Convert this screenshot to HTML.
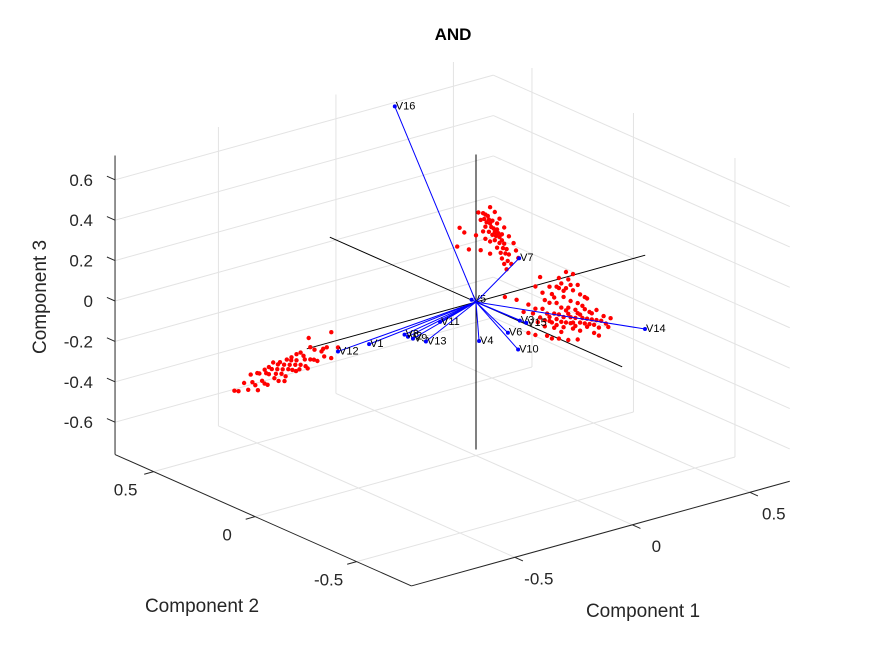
<!DOCTYPE html>
<html><head><meta charset="utf-8"><style>
body{margin:0;background:#fff;}
svg{display:block;font-family:"Liberation Sans",sans-serif;}
</style></head><body>
<svg id="chart" width="875" height="656" viewBox="0 0 875 656" xmlns="http://www.w3.org/2000/svg">
<rect width="875" height="656" fill="#fff"/>
<text x="453" y="40" text-anchor="middle" font-size="17" font-weight="bold">AND</text>
<g id="grid"></g><g id="axes"></g><g id="points"></g><g id="vectors"></g>
<text x="643" y="617" text-anchor="middle" font-size="19" fill="#262626">Component 1</text>
<text x="202" y="612" text-anchor="middle" font-size="19" fill="#262626">Component 2</text>
<text transform="translate(46,297) rotate(-90)" text-anchor="middle" font-size="19" fill="#262626">Component 3</text>
</svg>
<script>
const xTicks=[-0.5,0,0.5];
const yTicks=[-0.5,0,0.5];
const zTicks=[-0.6,-0.4,-0.2,0,0.2,0.4,0.6];
const xLim=[-0.94,0.67], yLim=[-0.77,0.69], zLim=[-0.76,0.72];
const vecNames=["V1","V2","V3","V4","V5","V6","V7","V8","V9","V10","V11","V12","V13","V14","V15","V16"];
const vecX=[-0.023,0.056,0.1,0.013,-0.01,-0.037,0.097,0.05,0.06,-0.08,0.063,-0.069,0.046,0.46,0.11,0];
const vecY=[0.5,0.4,-0.1,0,0.01,-0.2,-0.1,0.41,0.38,-0.3,0.25,0.6,0.3,-0.3,-0.12,0.4];
const vecZ=[-0.424,-0.368,-0.08,-0.197,0.01,-0.051,0.23,-0.36,-0.37,-0.076,-0.23,-0.49,-0.344,-0.148,-0.085,0.79];
const scoreX=[-0.069,-0.072,-0.075,-0.076,-0.077,-0.079,-0.081,-0.083,-0.084,-0.086,-0.086,-0.088,-0.088,-0.09,-0.09,-0.092,-0.092,-0.093,-0.094,-0.095,-0.096,-0.097,-0.097,-0.098,-0.099,-0.1,-0.101,-0.102,-0.104,-0.104,-0.105,-0.107,-0.108,-0.11,-0.112,-0.114,-0.116,-0.119,-0.121,-0.09,-0.083,-0.095,-0.099,-0.101,-0.106,-0.109,-0.08,-0.09,
0.03,0.04,0.05,0.035,0.055,0.045,0.06,0.07,0.04,0.065,0.075,0.055,0.08,0.09,0.07,0.085,0.1,0.095,0.08,0.11,0.1,0.12,0.09,0.115,0.13,0.105,0.125,0.14,0.11,0.135,0.15,0.12,-0.07,-0.05,0.02,0.17,0.06,0.03,0.09,0.11,
0.1,0.12,0.14,0.15,0.17,0.18,0.19,0.2,0.21,0.22,0.23,0.24,0.25,0.26,0.27,0.28,0.29,0.3,0.31,0.32,0.33,0.34,0.36,0.38,0.35,0.13,0.16,0.19,0.22,0.25,0.11,0.14,0.17,0.2,0.23,0.26,0.15,0.18,0.21,0.24,0.19,0.22,0.17,0.0,-0.05,0.05,0.08,0.29,0.31,0.2,0.24,0.16,0.27,0.12,0.3,0.08,0.1,0.27];
const scoreY=[0.6,0.63,0.648,0.66,0.672,0.69,0.702,0.72,0.732,0.744,0.75,0.762,0.768,0.78,0.786,0.798,0.804,0.81,0.816,0.828,0.834,0.84,0.846,0.852,0.864,0.87,0.876,0.888,0.9,0.906,0.912,0.93,0.942,0.96,0.972,0.99,1.008,1.032,1.05,0.78,0.72,0.822,0.858,0.882,0.918,0.948,0.62,0.72,
0,0,0,0,0,0,0,0,0,0,0,0,0,0,0,0,0,0,0,0,0,0,0,0,0,0,0,0,0,0,0,0,0,0,0,0,0,0,0,0,
-0.2,-0.2,-0.2,-0.2,-0.2,-0.2,-0.2,-0.2,-0.2,-0.2,-0.2,-0.2,-0.2,-0.2,-0.2,-0.2,-0.2,-0.2,-0.2,-0.2,-0.2,-0.2,-0.2,-0.2,-0.2,-0.2,-0.2,-0.2,-0.2,-0.2,-0.2,-0.2,-0.2,-0.2,-0.2,-0.2,-0.2,-0.2,-0.2,-0.2,-0.2,-0.2,-0.2,-0.2,-0.2,-0.2,-0.2,-0.2,-0.2,-0.2,-0.2,-0.2,-0.2,-0.2,-0.2,-0.2,-0.2,-0.2];
const scoreZ=[-0.47,-0.535,-0.489,-0.539,-0.519,-0.574,-0.523,-0.578,-0.628,-0.588,-0.573,-0.622,-0.647,-0.607,-0.632,-0.662,-0.617,-0.642,-0.666,-0.706,-0.651,-0.676,-0.701,-0.646,-0.686,-0.711,-0.735,-0.695,-0.725,-0.78,-0.725,-0.77,-0.739,-0.804,-0.794,-0.839,-0.813,-0.863,-0.868,-0.577,-0.518,-0.621,-0.741,-0.66,-0.71,-0.824,-0.40,-0.47,
0.43,0.42,0.41,0.40,0.39,0.38,0.37,0.38,0.36,0.35,0.34,0.33,0.32,0.33,0.31,0.30,0.29,0.31,0.28,0.27,0.26,0.25,0.24,0.23,0.22,0.21,0.2,0.19,0.18,0.16,0.14,0.15,0.39,0.36,0.25,0.2,0.28,0.34,0.36,0.3,
-0.02,-0.04,-0.03,-0.06,-0.05,-0.03,-0.07,-0.05,-0.08,-0.04,-0.06,-0.09,-0.07,-0.05,-0.1,-0.08,-0.11,-0.09,-0.12,-0.1,-0.13,-0.11,-0.12,-0.14,-0.15,-0.01,-0.02,0.0,-0.01,-0.03,0.02,0.04,0.03,0.05,0.02,0.0,0.08,0.1,0.09,0.07,0.12,0.13,0.11,0.1,0.13,0.06,0.03,-0.04,-0.06,-0.1,-0.12,-0.09,-0.14,-0.07,0.01,0.14,0.18,0.04];
const extraX=[0.05,0.08,0.13,0.18,0.22,0.26,0.33,0.37,0.4,0.39,0.14,0.17,0.21,0.23,0.25,0.28,0.3,0.32,0.34,0.12,0.16,0.2,0.23,0.26,0.14,0.18,0.21,0.24,0.11,0.07,0.03,0.09,0.27,0.19,0.15,0.35,0.29,
-0.08,-0.03,0.0,0.02,0.12,0.14,0.16,0.06,0.18,0.13,0.1,0.01,0.06,0.08,0.04,
-0.08,-0.085,-0.09,-0.094,-0.1,-0.104,-0.11,-0.098,-0.092,-0.086,-0.105,-0.112];
const extraY=[-0.2,-0.2,-0.2,-0.2,-0.2,-0.2,-0.2,-0.2,-0.2,-0.2,-0.2,-0.2,-0.2,-0.2,-0.2,-0.2,-0.2,-0.2,-0.2,-0.2,-0.2,-0.2,-0.2,-0.2,-0.2,-0.2,-0.2,-0.2,-0.2,-0.2,-0.2,-0.2,-0.2,-0.2,-0.2,-0.2,-0.2,
0,0,0,0,0,0,0,0,0,0,0,0,0,0,0,
0.66,0.7,0.76,0.8,0.86,0.9,0.95,0.83,0.78,0.74,0.92,0.98];
const extraZ=[-0.08,-0.1,-0.12,-0.15,-0.17,-0.18,-0.17,-0.1,-0.12,-0.16,-0.05,-0.08,-0.02,-0.09,-0.11,-0.02,-0.13,-0.07,-0.06,0.06,0.06,0.08,0.1,0.09,0.12,0.15,0.17,0.15,0.1,0.01,0.03,-0.04,-0.06,-0.12,-0.14,-0.19,0.02,
0.3,0.27,0.33,0.4,0.33,0.28,0.24,0.22,0.16,0.12,0.38,0.44,0.45,0.42,0.3,
-0.5,-0.57,-0.56,-0.6,-0.66,-0.69,-0.74,-0.73,-0.66,-0.62,-0.78,-0.76];

const O=[476,302], EX=[235,-65], EY=[-203,-90], EZ=[0,-202];
function P(x,y,z){return [O[0]+x*EX[0]+y*EY[0]+z*EZ[0], O[1]+x*EX[1]+y*EY[1]+z*EZ[1]];}
const NS="http://www.w3.org/2000/svg";
function mk(tag,attrs,parent){const e=document.createElementNS(NS,tag);for(const k in attrs)e.setAttribute(k,attrs[k]);parent.appendChild(e);return e;}
function line(a,b,stroke,w,parent){return mk('line',{x1:a[0],y1:a[1],x2:b[0],y2:b[1],stroke:stroke,'stroke-width':w},parent);}
const grid=document.getElementById('grid'),axes=document.getElementById('axes'),pts=document.getElementById('points'),vecs=document.getElementById('vectors');
const gc="#e3e3e3";
zTicks.forEach(z=>{
 let l=line(P(xLim[0],yLim[1],z),P(xLim[1],yLim[1],z),gc,1,grid);
 
 
 l=line(P(xLim[1],yLim[1],z),P(xLim[1],yLim[0],z),gc,1,grid);
 
 
});
xTicks.forEach(x=>{
 let l=line(P(x,yLim[1],zLim[0]),P(x,yLim[1],zLim[1]),gc,1,grid);
 
 
 l=line(P(x,yLim[0],zLim[0]),P(x,yLim[1],zLim[0]),gc,1,grid);
 
 
});
yTicks.forEach(y=>{
 let l=line(P(xLim[1],y,zLim[0]),P(xLim[1],y,zLim[1]),gc,1,grid);
 
 
 l=line(P(xLim[0],y,zLim[0]),P(xLim[1],y,zLim[0]),gc,1,grid);
 
 
});
const ac="#262626";
let a=line(P(xLim[0],yLim[1],zLim[0]),P(xLim[0],yLim[1],zLim[1]),ac,1,axes);


a=line(P(xLim[0],yLim[0],zLim[0]),P(xLim[0],yLim[1],zLim[0]),ac,1,axes);


a=line(P(xLim[0],yLim[0],zLim[0]),P(xLim[1],yLim[0],zLim[0]),ac,1,axes);


zTicks.forEach(z=>{
 const p=P(xLim[0],yLim[1],z), q=P(xLim[0],yLim[1]+0.04,z);
 line(p,q,ac,1,axes);
 const t=mk('text',{x:p[0]-22,y:p[1]+6,'text-anchor':'end','font-size':17,fill:ac},axes);
 t.textContent=z===0?'0':z.toFixed(1);
 
 
});
xTicks.forEach(x=>{
 const p=P(x,yLim[0],zLim[0]), q=P(x,yLim[0]-0.04,zLim[0]);
 line(p,q,ac,1,axes);
 const t=mk('text',{x:p[0]+24,y:p[1]+27,'text-anchor':'middle','font-size':17,fill:ac},axes);
 t.textContent=x===0?'0':x.toFixed(1);
 
 
});
yTicks.forEach(y=>{
 const p=P(xLim[0],y,zLim[0]), q=P(xLim[0]-0.04,y,zLim[0]);
 line(p,q,ac,1,axes);
 const t=mk('text',{x:p[0]-28,y:p[1]+24,'text-anchor':'middle','font-size':17,fill:ac},axes);
 t.textContent=y===0?'0':y.toFixed(1);
 
 
});
a=line(P(-0.72,0,0),P(0.72,0,0),'#000',1,axes);


a=line(P(0,-0.72,0),P(0,0.72,0),'#000',1,axes);


a=line(P(0,0,-0.73),P(0,0,0.73),'#000',1,axes);


const allX=scoreX.concat(extraX), allY=scoreY.concat(extraY), allZ=scoreZ.concat(extraZ);
for(let i=0;i<allX.length;i++){
 const p=P(allX[i],allY[i],allZ[i]);
 const c=mk('circle',{cx:p[0].toFixed(1),cy:p[1].toFixed(1),r:2.2,fill:'#ff0000'},pts);
 
 
}
for(let i=0;i<vecNames.length;i++){
 const o=P(0,0,0), p=P(vecX[i],vecY[i],vecZ[i]);
 const l=line(o,p,'#0000ff',1,vecs);
 
 
 const c=mk('circle',{cx:p[0],cy:p[1],r:2,fill:'#0000ff'},vecs);
 
 
 const t=mk('text',{x:p[0]+1,y:p[1]+3,'font-size':11,fill:'#000'},vecs);
 t.textContent=vecNames[i];
 
 
}
</script>
</body></html>
